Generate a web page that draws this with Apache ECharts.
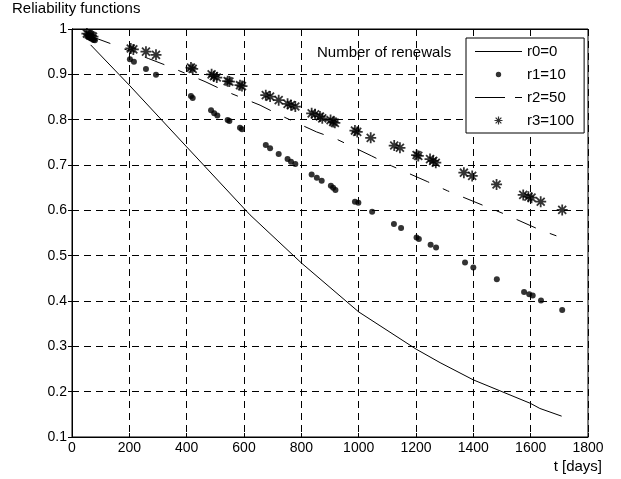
<!DOCTYPE html>
<html><head><meta charset="utf-8">
<script src="https://cdn.jsdelivr.net/npm/echarts@6/dist/echarts.min.js"></script>
<style>html,body{margin:0;padding:0;background:#fff}#c{width:621px;height:479px}</style>
</head><body><div id="c"></div>
<script>
// ---- data ----
const xTicks = [0, 200, 400, 600, 800, 1000, 1200, 1400, 1600, 1800];
const yTicks = [0.1, 0.2, 0.3, 0.4, 0.5, 0.6, 0.7, 0.8, 0.9, 1];
const seriesNames = ['r0=0', 'r1=10', 'r2=50', 'r3=100'];

const r0Days = [65, 200, 400, 621, 800, 1000, 1200, 1284, 1400, 1500, 1600, 1632, 1708];
const r0Vals = [0.965, 0.876, 0.740, 0.590, 0.484, 0.376, 0.294, 0.264, 0.226, 0.200, 0.174, 0.163, 0.146];

const r1Days = [55, 60, 65, 70, 75, 80, 202, 216, 258, 293, 415, 421, 485, 496, 507, 543, 549, 586, 593, 676, 691, 721, 752, 764, 779, 836, 854, 871, 903, 911, 919, 987, 999, 1047, 1123, 1148, 1202, 1210, 1251, 1270, 1371, 1400, 1482, 1577, 1595, 1607, 1636, 1710];
const r1Vals = [0.985, 0.982, 0.980, 0.978, 0.976, 0.975, 0.933, 0.928, 0.912, 0.899, 0.852, 0.848, 0.821, 0.814, 0.809, 0.799, 0.797, 0.782, 0.779, 0.744, 0.737, 0.724, 0.713, 0.707, 0.702, 0.679, 0.672, 0.665, 0.654, 0.650, 0.645, 0.619, 0.617, 0.597, 0.570, 0.561, 0.540, 0.537, 0.524, 0.518, 0.485, 0.474, 0.448, 0.420, 0.415, 0.412, 0.401, 0.380];

const r2Days = [65, 138, 266, 336, 464, 531, 656, 725, 853, 923, 1045, 1115, 1241, 1310, 1438, 1508, 1632, 1706];
const r2Vals = [0.984, 0.967, 0.935, 0.918, 0.884, 0.864, 0.832, 0.810, 0.773, 0.757, 0.720, 0.698, 0.663, 0.643, 0.610, 0.592, 0.557, 0.540];

const r3Days = [52, 58, 63, 68, 73, 205, 214, 258, 293, 415, 421, 487, 495, 505, 543, 549, 586, 593, 676, 691, 721, 752, 764, 779, 836, 848, 865, 873, 902, 911, 917, 987, 995, 1042, 1124, 1144, 1202, 1208, 1249, 1260, 1269, 1367, 1396, 1481, 1574, 1592, 1603, 1635, 1710];
const r3Vals = [0.990, 0.988, 0.986, 0.985, 0.983, 0.957, 0.955, 0.950, 0.943, 0.915, 0.912, 0.900, 0.896, 0.893, 0.885, 0.884, 0.876, 0.874, 0.854, 0.851, 0.843, 0.835, 0.832, 0.829, 0.814, 0.812, 0.807, 0.803, 0.799, 0.795, 0.793, 0.776, 0.773, 0.760, 0.743, 0.738, 0.722, 0.720, 0.713, 0.709, 0.705, 0.683, 0.676, 0.657, 0.634, 0.630, 0.628, 0.619, 0.601];

// ---- chart ----
const zip = (a, b) => a.map((v, i) => [v, b[i]]);
const FONT = 'Liberation Sans, Arial, sans-serif';

// asterisk made of 4 thin filled bars, centred at (cx,cy), half-length h, half-thickness t
function starPath(cx, cy, h, t) {
  const d = h * 0.72, e = t * 0.72;
  const f = n => n.toFixed(3);
  let p = '';
  p += `M${f(cx-h)},${f(cy-t)}L${f(cx+h)},${f(cy-t)}L${f(cx+h)},${f(cy+t)}L${f(cx-h)},${f(cy+t)}Z`;
  p += `M${f(cx-t)},${f(cy-h)}L${f(cx+t)},${f(cy-h)}L${f(cx+t)},${f(cy+h)}L${f(cx-t)},${f(cy+h)}Z`;
  p += `M${f(cx-d-e)},${f(cy-d+e)}L${f(cx-d+e)},${f(cy-d-e)}L${f(cx+d+e)},${f(cy+d-e)}L${f(cx+d-e)},${f(cy+d+e)}Z`;
  p += `M${f(cx+d-e)},${f(cy-d-e)}L${f(cx+d+e)},${f(cy-d+e)}L${f(cx-d+e)},${f(cy+d+e)}L${f(cx-d-e)},${f(cy+d-e)}Z`;
  return p;
}
// legend icons live in a 47x14 box; invisible corner specks keep that bounding box
const IW = 47, IH = 14;
const SPECKS = `M0,0L0.01,0L0,0.01ZM${IW},${IH}L${IW - 0.01},${IH}L${IW},${IH - 0.01}Z`;
const rect = (x0, x1) => `M${x0},6.5L${x1},6.5L${x1},7.5L${x0},7.5Z`;
const STAR = 'path://' + starPath(5, 5, 5, 0.8);
const LEGEND_SOLID = 'path://' + SPECKS + rect(0, IW);
const LEGEND_DASH = 'path://' + SPECKS + rect(0, 30) + rect(40, IW);
const LEGEND_STAR = 'path://' + SPECKS + starPath(IW / 2, IH / 2, 4, 0.6);
const LEGEND_DOT = 'path://' + SPECKS + `M${IW / 2},4.3A2.7,2.7 0 1 1 ${IW / 2},9.7A2.7,2.7 0 1 1 ${IW / 2},4.3Z`;
const gridDash = [7, 5];

const chart = echarts.init(document.getElementById('c'), null, {renderer: 'canvas'});
chart.setOption({
  animation: false,
  backgroundColor: '#fff',
  textStyle: {fontFamily: FONT, color: '#000'},
  title: [
    {text: 'Reliability functions', left: 12, top: 1, padding: 0,
     textStyle: {fontSize: 15, fontWeight: 'normal', color: '#000', fontFamily: FONT}},
    {text: 'Number of renewals', left: 317, top: 45, padding: 0,
     textStyle: {fontSize: 15, fontWeight: 'normal', color: '#000', fontFamily: FONT}},
    {text: 't [days]', right: 19, top: 459, padding: 0,
     textStyle: {fontSize: 15, fontWeight: 'normal', color: '#000', fontFamily: FONT}}
  ],
  grid: {left: 72, right: 33, top: 29, bottom: 42, show: true, borderColor: '#000', borderWidth: 1},
  xAxis: [
    {type: 'value', min: xTicks[0], max: xTicks[xTicks.length - 1], interval: 200,
     axisLine: {show: true, lineStyle: {color: '#000'}},
     axisTick: {show: true, inside: true, length: 4, lineStyle: {color: '#000'}},
     axisLabel: {color: '#000', fontSize: 14, margin: 4, fontFamily: FONT, formatter: v => String(v)},
     splitLine: {show: true, lineStyle: {color: '#000', type: gridDash, width: 1}}},
    {type: 'value', position: 'top', min: xTicks[0], max: xTicks[xTicks.length - 1], interval: 200,
     axisLine: {show: true, lineStyle: {color: '#000'}},
     axisTick: {show: true, inside: true, length: 4, lineStyle: {color: '#000'}},
     axisLabel: {show: false}, splitLine: {show: false}}
  ],
  yAxis: [
    {type: 'value', min: yTicks[0], max: yTicks[yTicks.length - 1], interval: 0.1,
     axisLine: {show: true, lineStyle: {color: '#000'}},
     axisTick: {show: true, inside: true, length: 4, lineStyle: {color: '#000'}},
     axisLabel: {color: '#000', fontSize: 14, margin: 5, fontFamily: FONT,
       formatter: v => (Math.abs(v - 1) < 1e-9 ? '1' : (+v).toFixed(1))},
     splitLine: {show: true, lineStyle: {color: '#000', type: gridDash, width: 1}}},
    {type: 'value', position: 'right', min: yTicks[0], max: yTicks[yTicks.length - 1], interval: 0.1,
     axisLine: {show: true, lineStyle: {color: '#000'}},
     axisTick: {show: true, inside: true, length: 4, lineStyle: {color: '#000'}},
     axisLabel: {show: false}, splitLine: {show: false}}
  ],
  legend: {
    orient: 'vertical', left: 466, top: 38,
    backgroundColor: '#fff', borderColor: '#000', borderWidth: 1,
    padding: [6, 10, 5, 9], itemGap: 8, itemWidth: IW, itemHeight: IH,
    textStyle: {fontSize: 15, color: '#000', fontFamily: FONT},
    selectedMode: false,
    data: [
      {name: seriesNames[0], icon: LEGEND_SOLID},
      {name: seriesNames[1], icon: LEGEND_DOT},
      {name: seriesNames[2], icon: LEGEND_DASH},
      {name: seriesNames[3], icon: LEGEND_STAR}
    ]
  },
  series: [
    {name: seriesNames[0], type: 'line', data: zip(r0Days, r0Vals), symbol: 'none',
     lineStyle: {color: '#000', width: 1}, itemStyle: {color: '#000'}, z: 2},
    {name: seriesNames[1], type: 'scatter', data: zip(r1Days, r1Vals), symbol: 'circle', symbolSize: 6,
     itemStyle: {color: '#000'}, z: 3},
    {name: seriesNames[2], type: 'line', data: zip(r2Days, r2Vals), symbol: 'none',
     lineStyle: {color: '#000', width: 1, type: [21, 15, 7, 15]}, itemStyle: {color: '#000'}, z: 2},
    {name: seriesNames[3], type: 'scatter', data: zip(r3Days, r3Vals), symbol: STAR, symbolSize: 11,
     itemStyle: {color: '#000'}, z: 4}
  ]
});
</script>
</body></html>
